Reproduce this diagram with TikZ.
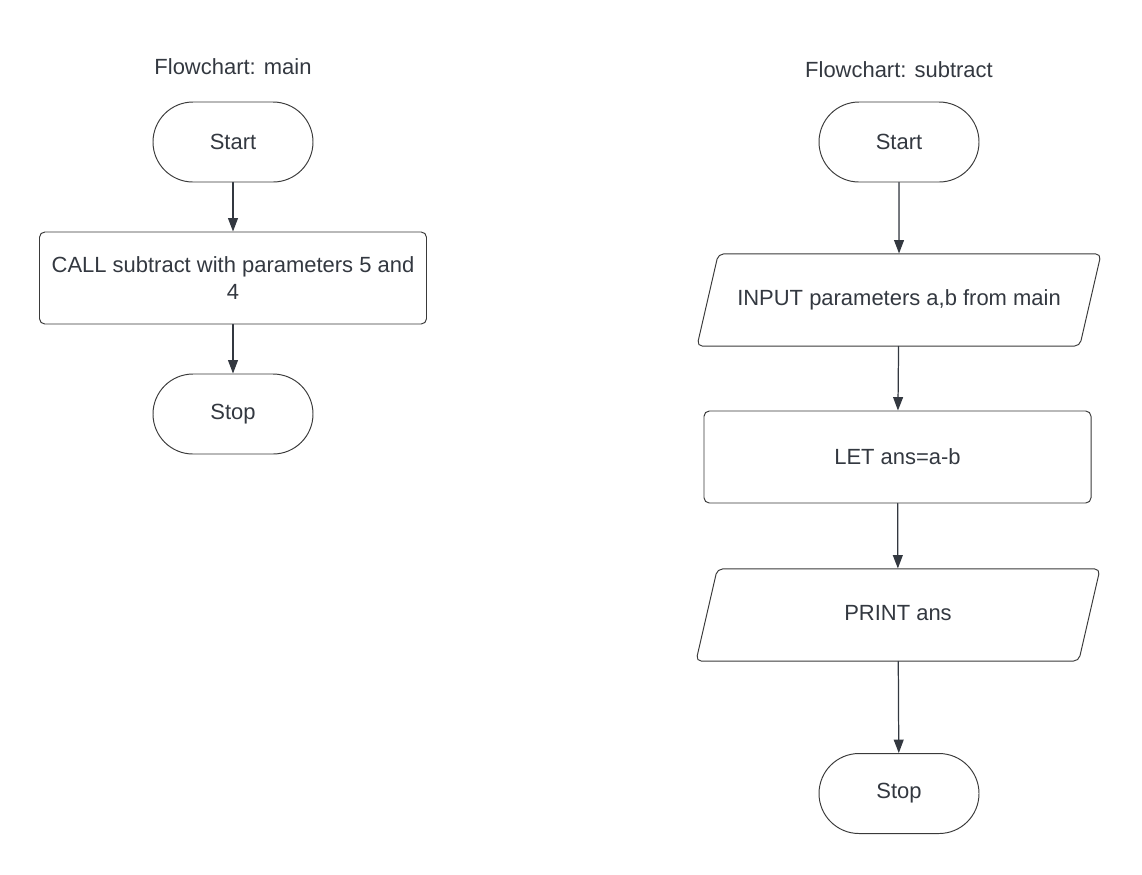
\documentclass[tikz,border=0pt]{standalone}
\usepackage{fontspec}
\setmainfont{Liberation Sans}
\usetikzlibrary{arrows.meta,shapes.geometric}
\definecolor{ink}{HTML}{333840}
\definecolor{edge}{HTML}{3A3A3A}
\begin{document}
\begin{tikzpicture}[line cap=round,line join=round,>={Triangle[width=5.6pt,length=7.6pt]},
  every node/.style={text=ink,font=\fontsize{12.5}{15.4}\selectfont},
  title/.style={inner sep=0pt},
  term/.style={draw=edge,line width=0.55pt,rectangle,rounded corners=0.8cm,minimum width=3.2cm,minimum height=1.6cm},
  proc/.style={draw=edge,line width=0.55pt,rectangle,rounded corners=3pt,minimum width=7.74cm,minimum height=1.84cm,align=center},
  io/.style={draw=edge,line width=0.55pt,trapezium,trapezium left angle=77,trapezium right angle=103,
    trapezium stretches body,rounded corners=3pt,text height=9pt,text depth=3pt,inner ysep=0.71cm,minimum width=8.08cm},
  flow/.style={->,draw=ink,fill=ink,line width=0.7pt}]
  \useasboundingbox (0,0) rectangle (22.84,-17.48);
  % main
  \node[title] (tmain) at (4.66,-1.34) {Flowchart: main};
  \node[term] (mstart) at (4.66,-2.84) {Start};
  \node[proc] (mcall) at (4.66,-5.56) {CALL subtract with parameters 5 and\\4};
  \node[term] (mstop) at (4.66,-8.28) {Stop};
  \draw[flow] (mstart) -- (mcall);
  \draw[flow] (mcall) -- (mstop);
  % subtract
  \node[title] (tsub) at (17.98,-1.40) {Flowchart: subtract};
  \node[term] (sstart) at (17.98,-2.84) {Start};
  \node[io] (sin) at (17.98,-6.00) {INPUT parameters a,b from main};
  \node[proc] (slet) at (17.95,-9.14) {LET ans=a-b};
  \node[io] (sout) at (17.96,-12.30) {PRINT ans};
  \node[term] (sstop) at (17.98,-15.87) {Stop};
  \draw[flow] (sstart) -- (sin);
  \draw[flow] (sin) -- (slet);
  \draw[flow] (slet) -- (sout);
  \draw[flow] (sout) -- (sstop);
\end{tikzpicture}
\end{document}
